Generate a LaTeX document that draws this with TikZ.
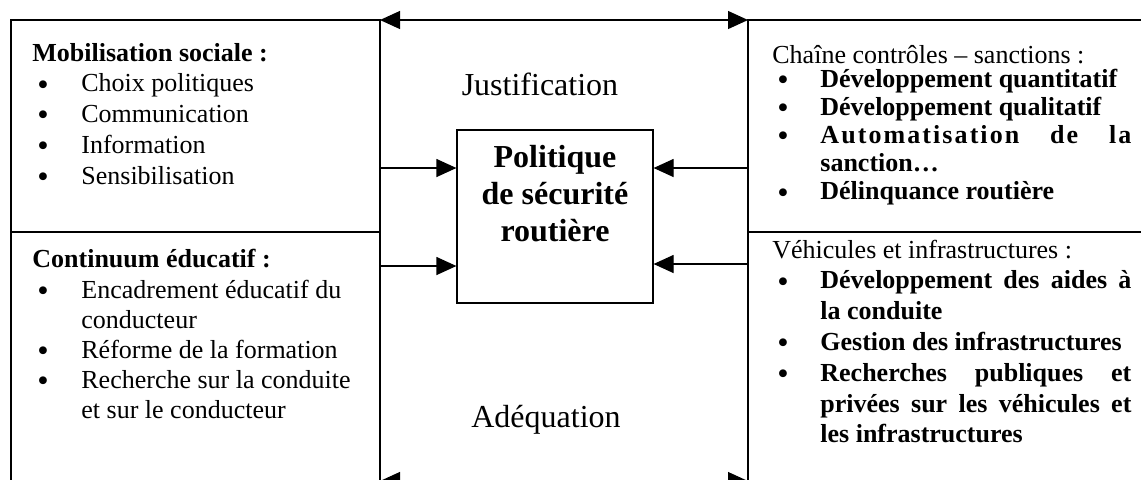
\documentclass[tikz,border=0pt]{standalone}
\usepackage{fontspec}
\setmainfont{Liberation Serif}
\usetikzlibrary{arrows.meta}
\newcommand\bul{\smash{\raisebox{-1.6pt}{\scalebox{1.25}{\textbullet}}}}
\begin{document}
\begin{tikzpicture}[x=0.5pt,y=-0.5pt,
  ln/.style={line width=0.6pt},
  arr/.style={line width=0.6pt,-{Triangle[length=10pt,width=9pt]}},
  dbl/.style={line width=0.6pt,{Triangle[length=10pt,width=9pt]}-{Triangle[length=10pt,width=9pt]}},
  txt/.style={anchor=base west,inner sep=0pt},
  big/.style={font=\fontsize{16pt}{18.5pt}\selectfont, inner sep=0pt}]
\useasboundingbox (0,0) rectangle (1141,479);
\clip (0,0) rectangle (1141,479);
% frames
\draw[ln] (11,20) rectangle (380,232);
\draw[ln] (11,232) rectangle (380,520);
\draw[ln] (748,20) rectangle (1180,232);
\draw[ln] (748,232) rectangle (1180,520);
% corner coordinates
\coordinate (tl) at (380,20);
\coordinate (tr) at (748,20);
\coordinate (bl) at (380,481);
\coordinate (br) at (748,481);
\draw[dbl] (tl) -- (tr);
\draw[dbl] (bl) -- (br);
% central box
\node[draw, line width=0.6pt, minimum width=98pt, minimum height=86.5pt, inner sep=0pt] (pol) at (555,216.5) {};
\node[big, anchor=base, align=center, font=\fontsize{16pt}{18.3pt}\selectfont\bfseries] (poltxt) at (555,241) {Politique\\de sécurité\\routière};
% arrows into box
\coordinate (la1) at (380,168);
\coordinate (la2) at (380,266);
\coordinate (ra1) at (748,168);
\coordinate (ra2) at (748,264);
\draw[arr] (la1) -- (la1 -| pol.west);
\draw[arr] (la2) -- (la2 -| pol.west);
\draw[arr] (ra1) -- (ra1 -| pol.east);
\draw[arr] (ra2) -- (ra2 -| pol.east);
% labels
\node[big, anchor=base] (just) at (540,95) {Justification};
\node[big, anchor=base] (adeq) at (546,427) {Adéquation};
% left top
\node[txt, font=\fontsize{13pt}{15.4pt}\selectfont] (lt) at (32,61) {\begin{tabular}[t]{@{\hspace{2.5pt}}p{22pt}@{}l@{}}
\multicolumn{2}{@{}l@{}}{\textbf{Mobilisation sociale :}}\\
\bul & Choix politiques\\
\bul & Communication\\
\bul & Information\\
\bul & Sensibilisation
\end{tabular}};
% left bottom
\node[txt, font=\fontsize{13pt}{15.1pt}\selectfont] (lb) at (32,267) {\begin{tabular}[t]{@{\hspace{2.5pt}}p{22pt}@{}l@{}}
\multicolumn{2}{@{}l@{}}{\textbf{Continuum éducatif :}}\\[0.4pt]
\bul & Encadrement éducatif du\\
 & conducteur\\
\bul & Réforme de la formation\\
\bul & Recherche sur la conduite\\
 & et sur le conducteur
\end{tabular}};
% right top
\node[txt, font=\fontsize{13pt}{14.1pt}\selectfont] (rt) at (772,63) {\begin{tabular}[t]{@{\hspace{2.5pt}}p{21.5pt}@{}l@{}}
\multicolumn{2}{@{}l@{}}{Chaîne contrôles – sanctions :}\\[-2.1pt]
\bul & \textbf{Développement quantitatif}\\
\bul & \textbf{Développement qualitatif}\\
\bul & \makebox[155.5pt][s]{\bfseries\addfontfeatures{LetterSpace=8}Automatisation de la}\\
 & \textbf{sanction…}\\
\bul & \textbf{Délinquance routière}
\end{tabular}};
% right bottom
\node[txt, font=\fontsize{13pt}{15.4pt}\selectfont] (rb) at (772,258) {\begin{tabular}[t]{@{\hspace{2.5pt}}p{21.5pt}@{}l@{}}
\multicolumn{2}{@{}l@{}}{Véhicules et infrastructures :}\\
\bul & \makebox[155.5pt][s]{\bfseries Développement des aides à}\\
 & \textbf{la conduite}\\
\bul & \textbf{Gestion des infrastructures}\\
\bul & \makebox[155.5pt][s]{\bfseries Recherches publiques et}\\
 & \makebox[155.5pt][s]{\bfseries privées sur les véhicules et}\\
 & \textbf{les infrastructures}
\end{tabular}};
\end{tikzpicture}
\end{document}
